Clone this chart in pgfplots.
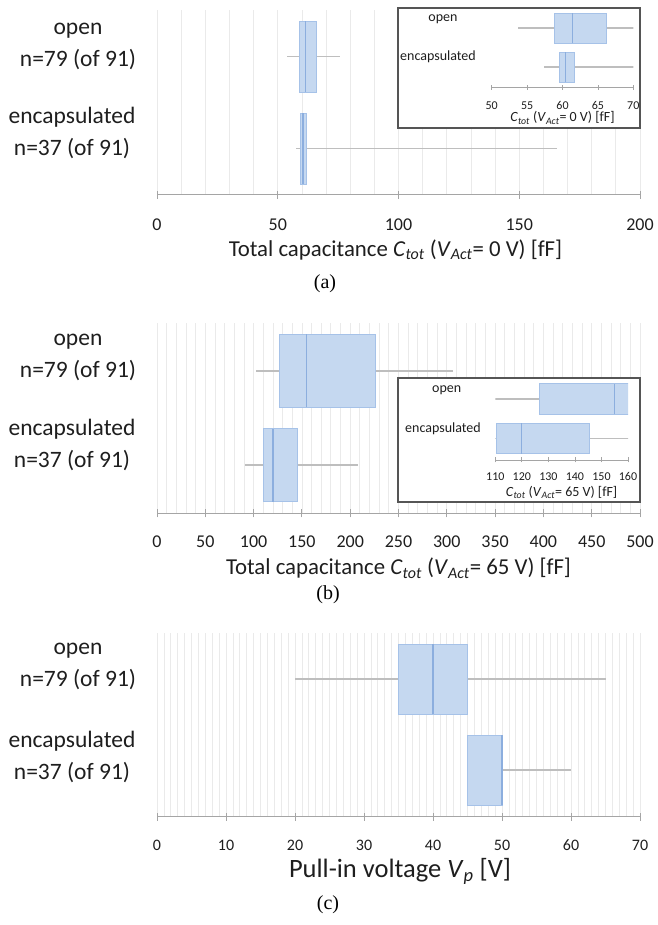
\documentclass[border=0pt]{standalone}
\usepackage{pgfplots}
\pgfplotsset{compat=1.18}
\usepgfplotslibrary{statistics}
\usepackage{fontspec}
\setmainfont{Carlito}
\newfontfamily\capfont{Liberation Serif}
\definecolor{boxfill}{RGB}{197,216,240}
\definecolor{boxedge}{RGB}{166,194,232}
\definecolor{medcol}{RGB}{140,174,222}
\definecolor{whiskcol}{RGB}{190,190,190}
\definecolor{gridcol}{RGB}{234,234,234}
\definecolor{axcol}{RGB}{165,165,165}
\definecolor{txtcol}{RGB}{30,30,30}
\definecolor{framecol}{RGB}{85,85,85}
\pgfplotsset{
  bxstyle/.style={
    boxplot/draw direction=x,
    boxplot/every box/.style={draw=boxedge, fill=boxfill, line width=0.9pt},
    boxplot/every whisker/.style={draw=whiskcol, line width=1.6pt},
    boxplot/every median/.style={draw=medcol, line width=1.3pt},
  },
  mainax/.style={
    bxstyle,
    scale only axis, anchor=south west, width=483pt,
    xmin=0, ymin=0, enlargelimits=false,
    axis x line*=bottom, axis y line=none,
    x axis line style={draw=axcol, line width=1pt, -},
    xtick style={draw=axcol, line width=1pt},
    tick align=center, major tick length=8pt, minor tick length=0pt,
    xmajorgrids, xminorgrids,
    major grid style={draw=gridcol, line width=0.8pt},
    minor grid style={draw=gridcol, line width=0.8pt},
    ytick=\empty,
    /pgf/number format/assume math mode=true,
    xticklabel style={anchor=center, inner sep=1pt, text=txtcol, font=\fontsize{18}{20}\selectfont},
  },
  insetax/.style={
    bxstyle,
    scale only axis, anchor=south west,
    ymin=0, enlargelimits=false,
    axis x line*=bottom, axis y line=none,
    x axis line style={draw=axcol, line width=0.8pt, -},
    xtick style={draw=axcol, line width=0.8pt},
    tick align=center, major tick length=5pt,
    ytick=\empty,
    /pgf/number format/assume math mode=true,
    xticklabel style={anchor=center, inner sep=1pt, text=txtcol, font=\fontsize{12}{14}\selectfont},
  },
}
\tikzset{
  ylab/.style={text=txtcol, align=center, inner sep=0pt, font=\fontsize{23.5}{32}\selectfont},
  xlab/.style={text=txtcol, anchor=base, inner sep=0pt, font=\fontsize{22.8}{26}\selectfont},
  inlab/.style={text=txtcol, inner sep=0pt, font=\fontsize{14}{16}\selectfont},
  captn/.style={inner sep=0pt, font=\capfont\fontsize{20}{22}\selectfont},
}
\begin{document}
\begin{tikzpicture}[x=1pt,y=1pt]
\useasboundingbox (0,0) rectangle (657,925);
% ---------------- (a) ----------------
\begin{axis}[mainax, at={(157pt,730pt)}, height=185pt, xmax=200, ymax=185,
  xtick={0,50,...,200}, minor x tick num=4,
  xticklabel style={yshift=-25.5pt}]
\addplot[boxplot prepared={lower whisker=53.8, lower quartile=58.8, median=61.4,
  upper quartile=66.2, upper whisker=75.6, draw position=138.5, box extend=71,
  whisker extend=0}] coordinates {};
\addplot[boxplot prepared={lower whisker=57.4, lower quartile=59.6, median=60.4,
  upper quartile=61.7, upper whisker=165.6, draw position=46.5, box extend=71,
  whisker extend=0}] coordinates {};
\end{axis}
\filldraw[fill=white, draw=framecol, line width=1.4pt] (398,797) rectangle (640,917);
\begin{axis}[insetax, at={(491.7pt,837.7pt)}, width=141.6pt, height=78pt,
  xmin=50, xmax=70, ymax=78, xtick={50,55,...,70},
  xticklabel style={yshift=-15.7pt}]
\addplot[boxplot prepared={lower whisker=53.7, lower quartile=58.8, median=61.4,
  upper quartile=66.2, upper whisker=75.6, draw position=59, box extend=30,
  whisker extend=0}] coordinates {};
\addplot[boxplot prepared={lower whisker=57.4, lower quartile=59.6, median=60.4,
  upper quartile=61.7, upper whisker=165.6, draw position=20, box extend=30,
  whisker extend=0}] coordinates {};
\end{axis}
\node[inlab] at (443,906) {open};
\node[inlab] at (438,868) {encapsulated};
\node[inlab] at (562.5,807)
  {\textit{C}\textsubscript{\textit{tot}} (\textit{V}\textsubscript{\textit{Act}}= 0 V) [fF]};
\node[ylab] at (78,879) {open\\n=79 (of 91)};
\node[ylab] at (72,792) {encapsulated\\n=37 (of 91)};
\node[xlab] at (395.5,668.5)
  {Total capacitance \textit{C}\textsubscript{\textit{tot}} (\textit{V}\textsubscript{\textit{Act}}= 0 V) [fF]};
\node[captn] at (325,641) {(a)};
% ---------------- (b) ----------------
\begin{axis}[mainax, at={(157pt,411.7pt)}, height=190.3pt, xmax=500, ymax=190.3,
  xtick={0,50,...,500}, minor x tick num=4,
  xticklabel style={yshift=-24.7pt}]
\addplot[boxplot prepared={lower whisker=102, lower quartile=126.5, median=155,
  upper quartile=226, upper whisker=306, draw position=142.5, box extend=73,
  whisker extend=0}] coordinates {};
\addplot[boxplot prepared={lower whisker=91, lower quartile=110.5, median=120,
  upper quartile=145.5, upper whisker=207.7, draw position=48, box extend=73,
  whisker extend=0}] coordinates {};
\end{axis}
\filldraw[fill=white, draw=framecol, line width=1.4pt] (398,423) rectangle (640,547);
\begin{axis}[insetax, at={(495.3pt,465pt)}, width=132.7pt, height=80pt,
  xmin=110, xmax=160, ymax=80, xtick={110,120,...,160},
  xticklabel style={yshift=-14pt}]
\addplot[boxplot prepared={lower whisker=102, lower quartile=126.5, median=155,
  upper quartile=226, upper whisker=306, draw position=60.8, box extend=30.5,
  whisker extend=0}] coordinates {};
\addplot[boxplot prepared={lower whisker=91, lower quartile=110.5, median=120,
  upper quartile=145.5, upper whisker=207.7, draw position=21.3, box extend=30.5,
  whisker extend=0}] coordinates {};
\end{axis}
\node[inlab] at (446.7,535) {open};
\node[inlab] at (443,496) {encapsulated};
\node[inlab] at (561.6,432.3)
  {\textit{C}\textsubscript{\textit{tot}} (\textit{V}\textsubscript{\textit{Act}}= 65 V) [fF]};
\node[ylab] at (78,567.5) {open\\n=79 (of 91)};
\node[ylab] at (72,480) {encapsulated\\n=37 (of 91)};
\node[xlab] at (398.5,350)
  {Total capacitance \textit{C}\textsubscript{\textit{tot}} (\textit{V}\textsubscript{\textit{Act}}= 65 V) [fF]};
\node[captn] at (328,330) {(b)};
% ---------------- (c) ----------------
\begin{axis}[mainax, at={(157pt,108.3pt)}, height=183.7pt, xmax=70, ymax=183.7,
  xtick={0,10,...,70}, minor x tick num=9,
  xticklabel style={yshift=-24.3pt, font=\fontsize{16}{18}\selectfont}]
\addplot[boxplot prepared={lower whisker=20, lower quartile=35, median=40,
  upper quartile=45, upper whisker=65, draw position=137.7, box extend=70,
  whisker extend=0}] coordinates {};
\addplot[boxplot prepared={lower whisker=45, lower quartile=45, median=50,
  upper quartile=50, upper whisker=60, draw position=46.7, box extend=70,
  whisker extend=0}] coordinates {};
\end{axis}
\node[ylab] at (78,259) {open\\n=79 (of 91)};
\node[ylab] at (72,168.5) {encapsulated\\n=37 (of 91)};
\node[xlab, font=\fontsize{26.5}{30}\selectfont] at (400,47)
  {Pull-in voltage \textit{V}\textsubscript{\textit{p}} [V]};
\node[captn] at (328,20) {(c)};
\end{tikzpicture}
\end{document}
